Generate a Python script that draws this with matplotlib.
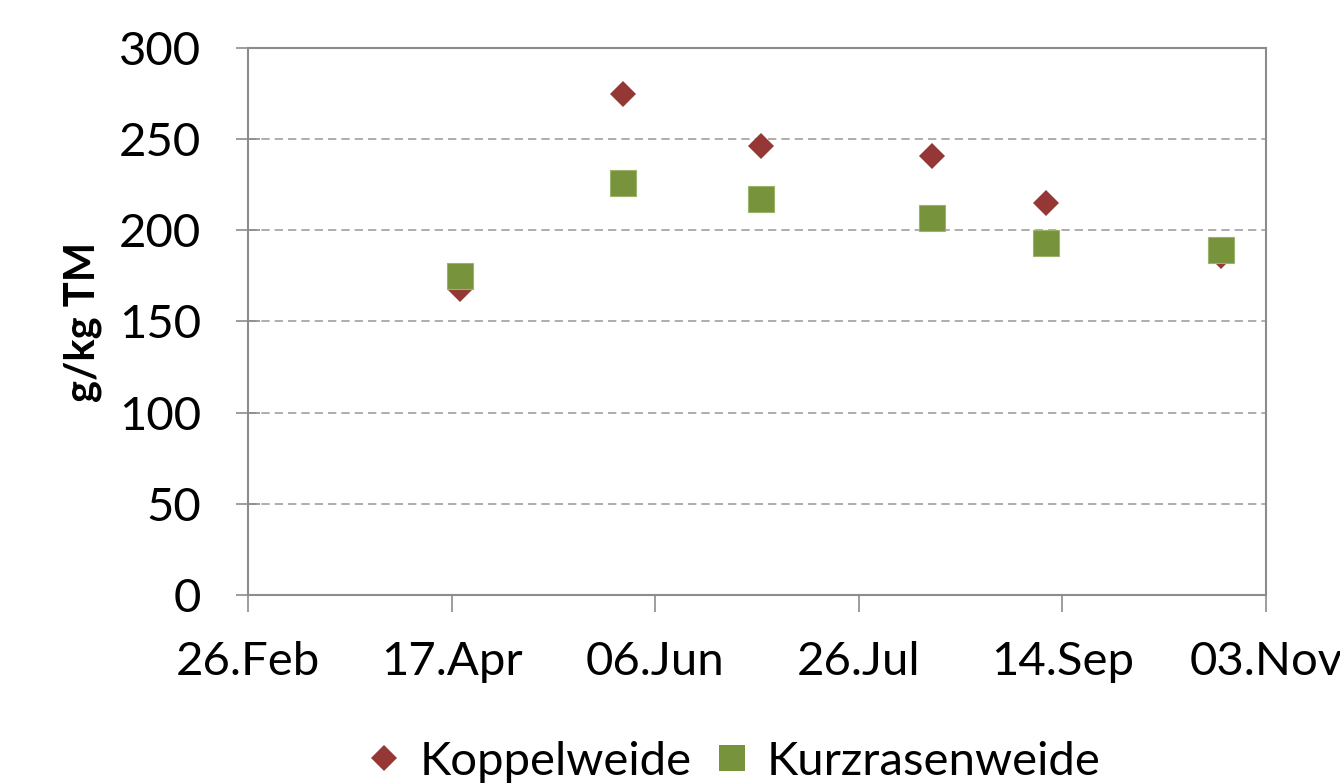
import datetime as dt
import matplotlib
matplotlib.use("Agg")
import matplotlib.pyplot as plt
import matplotlib.dates as mdates
from matplotlib.lines import Line2D

plt.rcParams['font.family'] = ['Lato', 'DejaVu Sans']

# sampling dates and contents (g/kg TM)
dates = ['2011-04-19', '2011-05-29', '2011-07-02', '2011-08-13', '2011-09-10', '2011-10-23']
koppel = [168, 275, 246, 241, 215, 186]
kurzrasen = [175, 226, 217, 207, 193, 189]

x_ticks = ['2011-02-26', '2011-04-17', '2011-06-06', '2011-07-26', '2011-09-14', '2011-11-03']
y_ticks = [0, 50, 100, 150, 200, 250, 300]

red = '#953735'
green = '#77933C'
axcol = '#8c8c8c'

x = [dt.datetime.strptime(d, '%Y-%m-%d') for d in dates]
xt = [dt.datetime.strptime(d, '%Y-%m-%d') for d in x_ticks]

fig = plt.figure(figsize=(13.4, 7.83), dpi=100)
ax = fig.add_axes([0.185, 0.2401, 0.7598, 0.6986])

ax.plot(x, koppel, linestyle='none', marker='D', markersize=13.6,
        color=red, markeredgewidth=0, zorder=3)
ax.plot(x, kurzrasen, linestyle='none', marker='s', markersize=19.2,
        markerfacecolor=green, markeredgecolor='#9bb36a', markeredgewidth=0.8,
        zorder=4)

ax.set_xlim(xt[0], xt[-1])
ax.set_ylim(0, 300)
ax.set_xticks(xt)
ax.xaxis.set_major_formatter(mdates.DateFormatter('%d.%b'))
ax.set_yticks(y_ticks)

ax.yaxis.grid(True, linestyle=(0, (5, 3)), color='#a0a0a0', linewidth=1.2)
ax.set_axisbelow(True)
for s in ax.spines.values():
    s.set_color(axcol)
    s.set_linewidth(1.5)

ax.tick_params(axis='x', direction='out', length=12, width=1.2, color=axcol,
               labelsize=34, pad=21)
ax.tick_params(axis='y', direction='inout', length=17, width=1.2, color=axcol,
               labelsize=34, pad=25)
for lab in ax.get_xticklabels():
    lab.set_clip_on(False)

ax.set_ylabel('g/kg TM', fontsize=30, fontweight='bold', labelpad=12)

handles = [
    Line2D([], [], linestyle='none', marker='D', markersize=13.2, color=red,
           markeredgewidth=0),
    Line2D([], [], linestyle='none', marker='s', markersize=19, color=green,
           markeredgewidth=0),
]
fig.legend(handles, ['Koppelweide', 'Kurzrasenweide'], loc='center',
           bbox_to_anchor=(0.547, 0.027), ncol=2, frameon=False,
           fontsize=34, handlelength=0.8, handletextpad=0.35, columnspacing=0.45)

fig.savefig('out.png', dpi=100)
